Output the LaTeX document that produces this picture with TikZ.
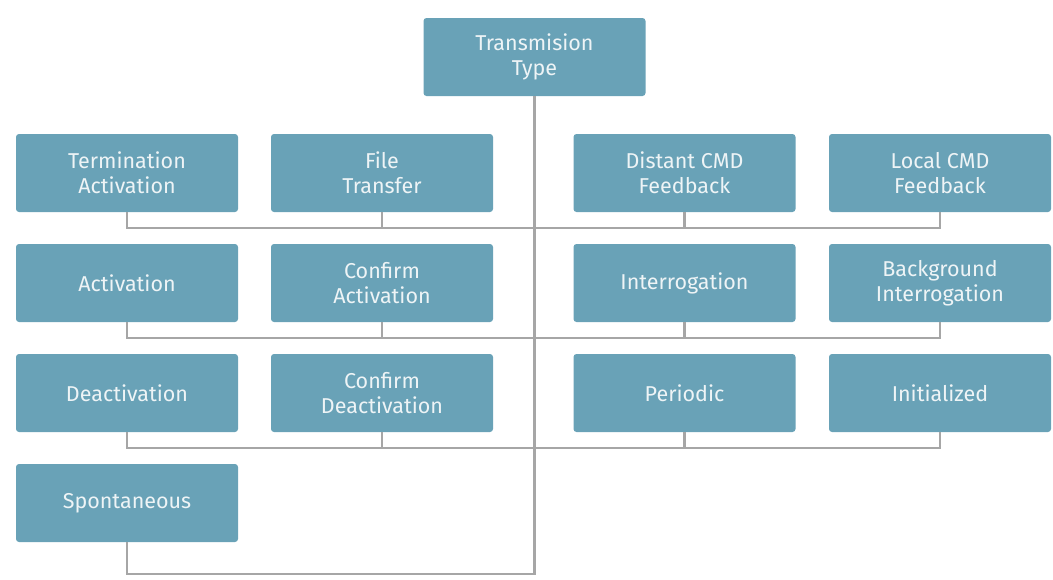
\documentclass[tikz,border=0pt]{standalone}
\usepackage{fontspec}
\setmainfont{Fira Sans}
\usetikzlibrary{positioning}
\definecolor{boxfill}{HTML}{69A2B7}
\definecolor{linegray}{HTML}{A6A6A6}
\definecolor{boxtext}{HTML}{EEF4F6}

\begin{document}
\begin{tikzpicture}[x=1pt,y=-1pt,
    tbox/.style={fill=boxfill,rounded corners=3pt,minimum width=222pt,minimum height=78pt,
      text=boxtext,align=center,font=\fontsize{21.5}{25}\selectfont},
    conn/.style={draw=linegray,line width=2.4pt}]

      \useasboundingbox (0,0) rectangle (1053,579);

      % top
      \node[tbox] (top) at (534.5,57) {Transmision\\Type};

      % row1
      \node[tbox] (b11) at (127,173) {Termination\\Activation};
      \node[tbox] (b12) at (382,173) {File\\Transfer};
      \node[tbox] (b13) at (684.5,173) {Distant CMD\\Feedback};
      \node[tbox] (b14) at (940,173) {Local CMD\\Feedback};

      % row2
      \node[tbox] (b21) at (127,283) {Activation};
      \node[tbox] (b22) at (382,283) {Confirm\\Activation};
      \node[tbox] (b23) at (684.5,283) {Interrogation};
      \node[tbox] (b24) at (940,283) {Background\\Interrogation};

      % row3
      \node[tbox] (b31) at (127,393) {Deactivation};
      \node[tbox] (b32) at (382,393) {Confirm\\Deactivation};
      \node[tbox] (b33) at (684.5,393) {Periodic};
      \node[tbox] (b34) at (940,393) {Initialized};

      % row4
      \node[tbox] (b41) at (127,503) {Spontaneous};

      % buses
      \foreach \r/\y in {1/228,2/338,3/448}{
        \path (b\r1.south |- 0,\y) coordinate (l\r);
        \draw[conn] (b\r1.south) -- (l\r) -- (l\r -| b\r4.south) -- (b\r4.south);
        \draw[conn] (b\r2.south) -- (b\r2.south |- l\r);
        \draw[conn] (b\r3.south) -- (b\r3.south |- l\r);
      }
      \path (top.south |- 0,574) coordinate (end);
      \draw[conn] (top.south) -- (end) -| (b41.south);

    \end{tikzpicture}
\end{document}
